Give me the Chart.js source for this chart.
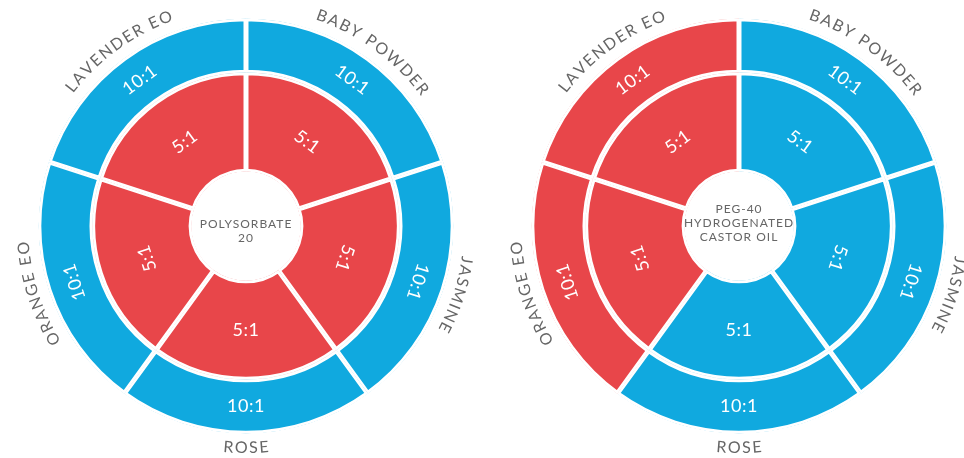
<!DOCTYPE html>
<html>
<head>
<meta charset="utf-8">
<script src="https://cdn.jsdelivr.net/npm/chart.js@4.4.1/dist/chart.umd.min.js"></script>
<style>
  html, body { margin: 0; padding: 0; background: #fff; overflow: hidden; }
  .panel { position: absolute; top: 0; width: 482px; height: 458px; }
</style>
</head>
<body>
<div class="panel" style="left:0"><canvas id="leftChart"></canvas></div>
<div class="panel" style="left:482px"><canvas id="rightChart"></canvas></div>
<script>
// fragrances, clockwise from the top
const categories = ['BABY POWDER', 'JASMINE', 'ROSE', 'ORANGE EO', 'LAVENDER EO'];
// every fragrance gets an equal slice
const sliceShares = [1, 1, 1, 1, 1];
// solubiliser : fragrance ratios
const outerRatios = ['10:1', '10:1', '10:1', '10:1', '10:1'];
const innerRatios = ['5:1', '5:1', '5:1', '5:1', '5:1'];
const leftSolubiliser = ['POLYSORBATE', '20'];
const rightSolubiliser = ['PEG-40', 'HYDROGENATED', 'CASTOR OIL'];

const RED = '#e8464a';
const BLUE = '#10a9df';
const GREY = '#666666';

// draws text around a circle, theta measured clockwise from the top
function curvedText(ctx, text, cx, cy, r, theta, flip, spacing) {
    const chars = [...text];
    const widths = chars.map(ch => ctx.measureText(ch).width + spacing);
    const total = widths.reduce((a, b) => a + b, 0) - spacing;
    const dir = flip ? -1 : 1;
    let a = theta - dir * total / (2 * r);
    chars.forEach((ch, i) => {
        const w = widths[i] - spacing;
        const ca = a + dir * (w / 2) / r;
        ctx.save();
        ctx.translate(cx + r * Math.sin(ca), cy - r * Math.cos(ca));
        ctx.rotate(flip ? ca + Math.PI : ca);
        ctx.fillText(ch, 0, 0);
        ctx.restore();
        a += dir * widths[i] / r;
    });
}

const ringLabels = {
    id: 'ringLabels',
    afterDatasetsDraw(chart, args, opts) {
        const ctx = chart.ctx;
        // ratio text inside each slice
        chart.data.datasets.forEach((ds, di) => {
            chart.getDatasetMeta(di).data.forEach((arc, i) => {
                const p = arc.getProps(['x', 'y', 'startAngle', 'endAngle', 'innerRadius', 'outerRadius'], true);
                const mid = (p.startAngle + p.endAngle) / 2;
                const r = (p.innerRadius + p.outerRadius) / 2;
                let rot = mid + Math.PI / 2;
                if (Math.cos(rot) < -0.5) rot += Math.PI;
                ctx.save();
                ctx.translate(p.x + Math.cos(mid) * r, p.y + Math.sin(mid) * r);
                ctx.rotate(rot);
                ctx.font = '18px Lato';
                ctx.letterSpacing = '0.5px';
                ctx.fillStyle = '#fff';
                ctx.textAlign = 'center';
                ctx.textBaseline = 'middle';
                ctx.fillText(ds.ratioLabels[i], 0, 0);
                ctx.restore();
            });
        });

        // fragrance names round the outside
        ctx.save();
        ctx.font = '16px Lato';
        ctx.fillStyle = GREY;
        ctx.textAlign = 'center';
        ctx.textBaseline = 'alphabetic';
        chart.getDatasetMeta(0).data.forEach((arc, i) => {
            const p = arc.getProps(['x', 'y', 'startAngle', 'endAngle', 'outerRadius'], true);
            const theta = (p.startAngle + p.endAngle) / 2 + Math.PI / 2;
            const flip = Math.cos(theta) < -0.5;
            const r = p.outerRadius + (flip ? 19.5 : 10.5);
            curvedText(ctx, chart.data.labels[i], p.x, p.y, r, theta, flip, 1.7);
        });
        ctx.restore();

        // solubiliser name in the hole
        const c = chart.getDatasetMeta(0).data[0];
        const lines = opts.centre;
        ctx.save();
        ctx.font = '12px Lato';
        ctx.fillStyle = GREY;
        ctx.textAlign = 'center';
        ctx.textBaseline = 'middle';
        ctx.letterSpacing = '1px';
        lines.forEach((line, k) => {
            const y = c.y + opts.shift + (k - (lines.length - 1) / 2) * 14;
            ctx.fillText(line, c.x, y);
        });
        ctx.restore();
    }
};

function makeChart(id, outerColours, innerColours, centre, shift, padding) {
    return new Chart(document.getElementById(id), {
        type: 'doughnut',
        data: {
            labels: categories,
            datasets: [
                {
                    data: sliceShares,
                    ratioLabels: outerRatios,
                    backgroundColor: outerColours,
                    weight: 54
                },
                {
                    data: sliceShares,
                    ratioLabels: innerRatios,
                    backgroundColor: innerColours,
                    weight: 99
                }
            ]
        },
        options: {
            responsive: true,
            maintainAspectRatio: false,
            animation: false,
            events: [],
            cutout: 54.5,
            layout: { padding: padding },
            elements: {
                arc: {
                    borderColor: '#ffffff',
                    borderWidth: 2.5,
                    borderAlign: 'inner',
                    borderJoinStyle: 'miter',
                    hoverOffset: 0,
                    offset: 0
                }
            },
            plugins: {
                legend: { display: false },
                tooltip: { enabled: false },
                ringLabels: { centre: centre, shift: shift }
            }
        },
        plugins: [ringLabels]
    });
}

// Polysorbate 20: 10:1 works for all (blue), 5:1 for none (red)
const leftChart = makeChart('leftChart',
    [BLUE, BLUE, BLUE, BLUE, BLUE],
    [RED, RED, RED, RED, RED],
    leftSolubiliser, 5,
    { left: 38.5, right: 28.5, top: 18.5, bottom: 24.5 });

// PEG-40: orange and lavender fail at both ratios
const rightChart = makeChart('rightChart',
    [BLUE, BLUE, BLUE, RED, RED],
    [BLUE, BLUE, BLUE, RED, RED],
    rightSolubiliser, -3,
    { left: 49.5, right: 17.5, top: 18.5, bottom: 24.5 });
</script>
</body>
</html>
